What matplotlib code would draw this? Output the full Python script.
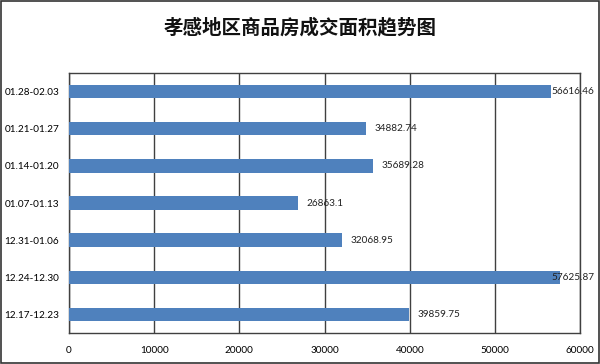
import matplotlib
matplotlib.use("Agg")
import matplotlib.pyplot as plt
from matplotlib.patches import Rectangle

plt.rcParams['font.family'] = ['Noto Sans CJK SC', 'DejaVu Sans']

# data (bottom to top)
weeks = ['12.17-12.23', '12.24-12.30', '12.31-01.06', '01.07-01.13',
         '01.14-01.20', '01.21-01.27', '01.28-02.03']
area = [39859.75, 57625.87, 32068.95, 26863.1, 35689.28, 34882.74, 56616.46]
area_labels = ['39859.75', '57625.87', '32068.95', '26863.1',
               '35689.28', '34882.74', '56616.46']
xticks = [0, 10000, 20000, 30000, 40000, 50000, 60000]

num_font = ['Lato', 'DejaVu Sans']

fig = plt.figure(figsize=(6, 3.64), dpi=100)
ax = fig.add_axes([0.115, 0.085, 0.852, 0.7145])

ax.barh(range(len(weeks)), area, height=0.36, color='#4f81bd', zorder=3)
for i, (v, s) in enumerate(zip(area, area_labels)):
    # labels that would run past the frame are pulled back, like Excel does
    ax.text(min(v + 1000, 56650), i, s, va='center', ha='left', fontsize=7.2,
            family=num_font, color='#222222', zorder=4)

ax.set_xlim(0, 60000)
ax.set_ylim(-0.5, len(weeks) - 0.5)
ax.set_xticks(xticks)
ax.set_xticklabels([str(t) for t in xticks], fontsize=7.2, family=num_font)
ax.set_yticks(range(len(weeks)))
ax.set_yticklabels(weeks, fontsize=7.2, family=num_font)
ax.tick_params(length=0, pad=9)
ax.tick_params(axis='y', pad=7)
ax.grid(axis='x', color='#404040', linewidth=1.0, zorder=1)
for sp in ax.spines.values():
    sp.set_color('#404040')
    sp.set_linewidth(1.0)

fig.text(0.5, 0.925, '孝感地区商品房成交面积趋势图', ha='center', va='center',
         fontsize=14, fontweight='bold', color='#111111')

fig.patches.append(Rectangle((0.002, 0.004), 0.996, 0.992, transform=fig.transFigure,
                             fill=False, edgecolor='#333333', linewidth=1.2))

fig.savefig('out.png', dpi=100)
